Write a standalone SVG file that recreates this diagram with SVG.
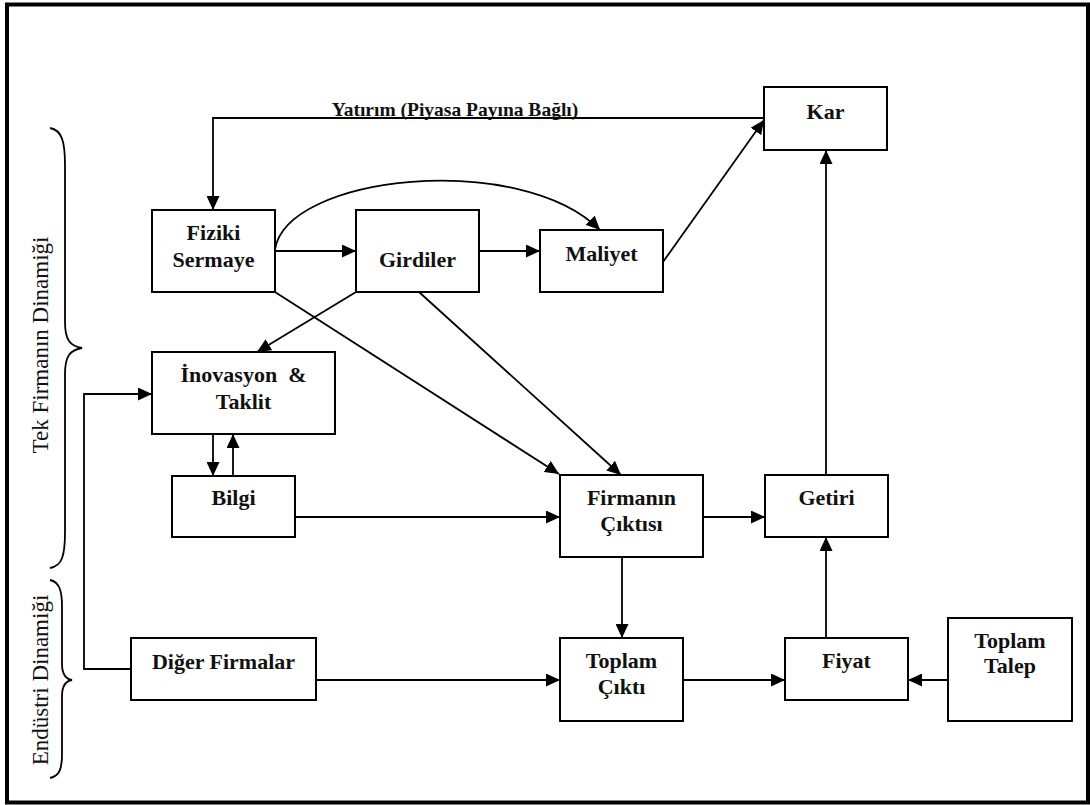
<svg xmlns="http://www.w3.org/2000/svg" width="1090" height="805" viewBox="0 0 1090 805" font-family="'Liberation Serif', serif">
  <defs>
    <marker id="arrow" markerUnits="userSpaceOnUse" markerWidth="15" markerHeight="13" refX="14" refY="6.5" orient="auto">
      <path d="M0,0 L14,6.5 L0,13 Z" fill="#000"/>
    </marker>
    <style>
      text { font-family: 'Liberation Serif', serif; }
      .lbl { font-weight: bold; font-size: 22px; text-anchor: middle; fill: #111; }
      .side { font-size: 23px; text-anchor: middle; fill: #111; }
      .box { fill: #fff; stroke: #000; stroke-width: 2; }
      .edge { fill: none; stroke: #000; stroke-width: 1.8; }
      .arr { marker-end: url(#arrow); }
      .brace { fill: none; stroke: #000; stroke-width: 1.8; }
    </style>
  </defs>

  <rect width="1090" height="805" fill="#fff"/>
  <!-- outer frame -->
  <rect x="7" y="4.5" width="1081" height="798" fill="none" stroke="#000" stroke-width="4"/>

  <!-- side braces and their captions -->
  <g id="brace-firm">
    <path class="brace" d="M50,128 C62,130 65,142 65,165 L65,322 C65,340 70,346 82,348 C70,350 65,356 65,374 L65,532 C65,556 62,566 50,568"/>
    <text class="side" transform="translate(48,345) rotate(-90)">Tek Firmanın Dinamiği</text>
  </g>
  <g id="brace-industry">
    <path class="brace" d="M50,580 C59,582 62,590 62,606 L62,664 C62,675 66,679 72,680 C66,681 62,685 62,696 L62,754 C62,770 59,776 50,778"/>
    <text class="side" transform="translate(48,680) rotate(-90)">Endüstri Dinamiği</text>
  </g>

  <!-- connectors -->
  <g id="connectors">
    <path class="edge arr" d="M764,118 L213,118 L213,210"/>
    <path class="edge arr" d="M275,251 L356,251"/>
    <path class="edge arr" d="M479,251 L540,251"/>
    <path class="edge arr" d="M275,250 C285,175 520,150 600,230"/>
    <path class="edge arr" d="M663,262 L764,120"/>
    <path class="edge arr" d="M826,475 L826,150"/>
    <path class="edge arr" d="M703,517 L765,517"/>
    <path class="edge arr" d="M295,517 L560,517"/>
    <path class="edge arr" d="M275,292 L559,474"/>
    <path class="edge arr" d="M419,292 L621,475"/>
    <path class="edge arr" d="M356,292 L257,352"/>
    <path class="edge arr" d="M213,434 L213,476"/>
    <path class="edge arr" d="M233,476 L233,434"/>
    <path class="edge arr" d="M131,669 L84,669 L84,394 L152,394"/>
    <path class="edge arr" d="M316,680 L560,680"/>
    <path class="edge arr" d="M622,557 L622,638"/>
    <path class="edge arr" d="M683,680 L785,680"/>
    <path class="edge arr" d="M826,638 L826,537"/>
    <path class="edge arr" d="M948,680 L908,680"/>
    <text class="lbl" x="455" y="116" style="font-size:19.5px">Yatırım (Piyasa Payına Bağlı)</text>
  </g>

  <!-- nodes -->
  <g id="kar">
    <rect class="box" x="764" y="87" width="123" height="63"/>
    <text class="lbl" x="825.5" y="119">Kar</text>
  </g>
  <g id="fiziki-sermaye">
    <rect class="box" x="152" y="210" width="123" height="82"/>
    <text class="lbl" x="213.5" y="240">Fiziki</text>
    <text class="lbl" x="213.5" y="267">Sermaye</text>
  </g>
  <g id="girdiler">
    <rect class="box" x="356" y="210" width="123" height="82"/>
    <text class="lbl" x="417.5" y="267">Girdiler</text>
  </g>
  <g id="maliyet">
    <rect class="box" x="540" y="230" width="123" height="62"/>
    <text class="lbl" x="601.5" y="261">Maliyet</text>
  </g>
  <g id="inovasyon">
    <rect class="box" x="152" y="352" width="183" height="82"/>
    <text class="lbl" x="243.5" y="382" xml:space="preserve">İnovasyon  &amp;</text>
    <text class="lbl" x="243.5" y="409">Taklit</text>
  </g>
  <g id="bilgi">
    <rect class="box" x="172" y="476" width="123" height="61"/>
    <text class="lbl" x="233.5" y="505">Bilgi</text>
  </g>
  <g id="firmanin-ciktisi">
    <rect class="box" x="560" y="475" width="143" height="82"/>
    <text class="lbl" x="631.5" y="505">Firmanın</text>
    <text class="lbl" x="631.5" y="531">Çıktısı</text>
  </g>
  <g id="getiri">
    <rect class="box" x="765" y="475" width="123" height="62"/>
    <text class="lbl" x="826.5" y="505">Getiri</text>
  </g>
  <g id="diger-firmalar">
    <rect class="box" x="131" y="638" width="185" height="62"/>
    <text class="lbl" x="223.5" y="669">Diğer Firmalar</text>
  </g>
  <g id="toplam-cikti">
    <rect class="box" x="560" y="638" width="123" height="83"/>
    <text class="lbl" x="621.5" y="668">Toplam</text>
    <text class="lbl" x="621.5" y="694">Çıktı</text>
  </g>
  <g id="fiyat">
    <rect class="box" x="785" y="638" width="123" height="62"/>
    <text class="lbl" x="846.5" y="668">Fiyat</text>
  </g>
  <g id="toplam-talep">
    <rect class="box" x="948" y="618" width="124" height="103"/>
    <text class="lbl" x="1010" y="648">Toplam</text>
    <text class="lbl" x="1010" y="673">Talep</text>
  </g>
</svg>
